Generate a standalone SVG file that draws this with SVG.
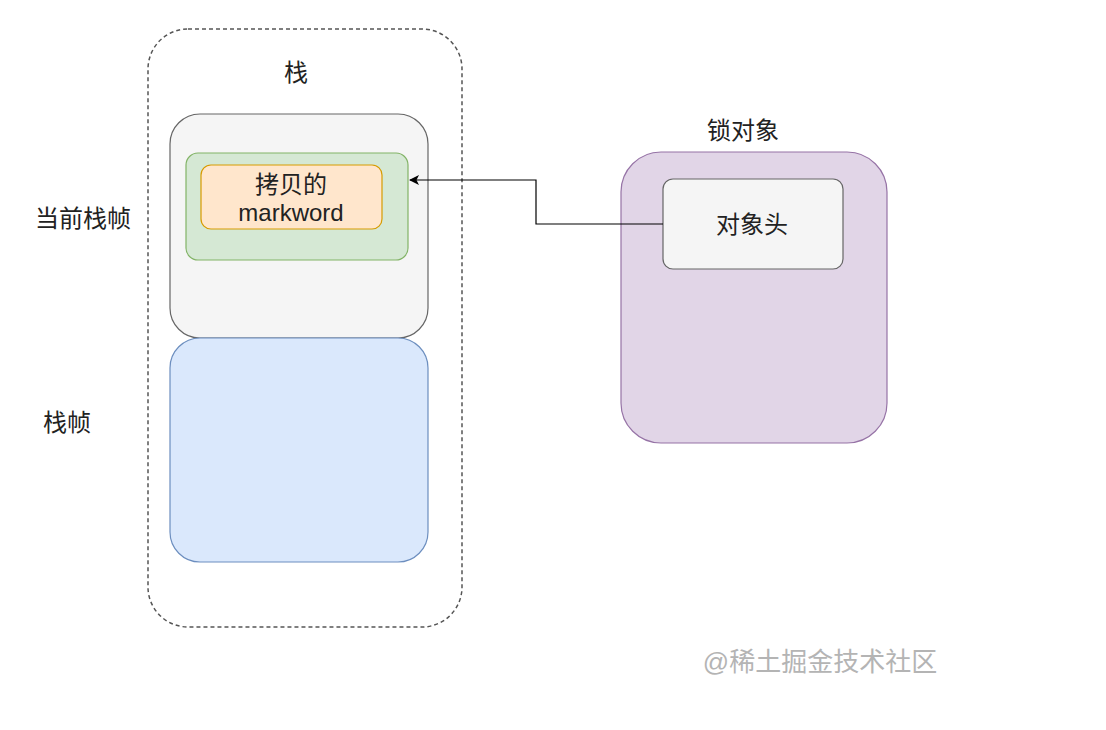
<svg xmlns="http://www.w3.org/2000/svg" width="1106" height="730" viewBox="0 0 1106 730">
<defs>
<style>
text{font-family:"Liberation Sans","Noto Sans CJK SC",sans-serif;fill:#222;text-anchor:middle;dominant-baseline:central}
.t{font-size:24px}
</style>
<marker id="ah" viewBox="0 0 10 10" refX="9" refY="5" markerWidth="10" markerHeight="10" orient="auto-start-reverse" markerUnits="userSpaceOnUse">
<path d="M0,0 L10,5 L0,10 L2.5,5 Z" fill="#000"/>
</marker>
</defs>
<rect width="1106" height="730" fill="#fff"/>
<g id="stack">
<rect x="148" y="29" width="314" height="598" rx="40" fill="none" stroke="#555" stroke-width="1.5" stroke-dasharray="4 3"/>
<text x="296" y="72" class="t">栈</text>
</g>
<g id="current-frame">
<rect x="170" y="114" width="258" height="224" rx="30" fill="#f5f5f5" stroke="#666" stroke-width="1.2"/>
</g>
<g id="frame">
<rect x="170" y="338" width="258" height="224" rx="30" fill="#dae8fc" stroke="#6c8ebf" stroke-width="1.2"/>
</g>
<g id="lock-record">
<rect x="186" y="153" width="222" height="107" rx="12" fill="#d5e8d4" stroke="#82b366" stroke-width="1.2"/>
</g>
<g id="markword">
<rect x="201" y="165" width="181" height="64" rx="10" fill="#ffe6cc" stroke="#d79b00" stroke-width="1.2"/>
<text x="291" y="184" class="t">拷贝的</text>
<text x="291" y="212" class="t">markword</text>
</g>
<g id="lock-object">
<rect x="621" y="152" width="266" height="291" rx="40" fill="#e1d5e7" stroke="#9673a6" stroke-width="1.2"/>
<text x="743" y="130" class="t">锁对象</text>
</g>
<g id="object-header">
<rect x="663" y="179" width="180" height="90" rx="10" fill="#f5f5f5" stroke="#666" stroke-width="1.2"/>
<text x="752" y="224" class="t">对象头</text>
</g>
<g id="label-current">
<text x="83" y="218" class="t">当前栈帧</text>
</g>
<g id="label-frame">
<text x="67" y="422" class="t">栈帧</text>
</g>
<g id="connectors">
<path d="M663,224 H536 V180 H410" fill="none" stroke="#000" stroke-width="1.2" marker-end="url(#ah)"/>
</g>
<g id="watermark">
<text x="820" y="662" style="font-size:26px;fill:#b4b4b4">@稀土掘金技术社区</text>
</g>
</svg>
